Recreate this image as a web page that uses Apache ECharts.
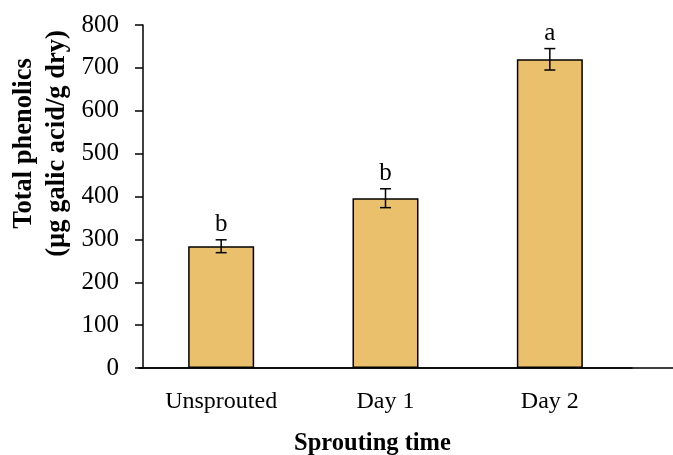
<!DOCTYPE html>
<html>
<head>
<meta charset="utf-8">
<title>Total phenolics</title>
<script src="https://cdn.jsdelivr.net/npm/echarts@6/dist/echarts.min.js"></script>
</head>
<body style="margin:0;background:#fff">
<div id="container" style="width:673px;height:455px"></div>
<script>
// values
var categories = ['Unsprouted', 'Day 1', 'Day 2'];
var means = [284, 396, 720];
var errors = [15, 22, 25];
var letters = ['b', 'b', 'a'];

var font = '"Liberation Serif", "Times New Roman", serif';

var errData = [];
for (var i = 0; i < categories.length; i++) {
    errData.push([i, means[i], errors[i]]);
}

var myChart = echarts.init(document.getElementById('container'));
var option = {
    backgroundColor: '#fff',
    animation: false,
    grid: [
        {left: 139, right: 41, top: 25, bottom: 87, outerBoundsMode: 'none'},
        // the baseline in the original runs on to the right edge
        {left: 139, right: 0, top: 25, bottom: 87, outerBoundsMode: 'none'}
    ],
    xAxis: [
        {
            type: 'category',
            data: categories,
            axisLine: {lineStyle: {color: '#000', width: 1.5}},
            axisTick: {show: false},
            axisLabel: {color: '#000', fontFamily: font, fontSize: 24, margin: 22},
            name: 'Sprouting time',
            nameLocation: 'middle',
            nameGap: 63,
            nameMoveOverlap: false,
            nameTextStyle: {color: '#000', fontFamily: font, fontSize: 24.5, fontWeight: 'bold', padding: [0, 26, 0, 0]}
        },
        {
            gridIndex: 1,
            type: 'category',
            data: [''],
            axisLine: {lineStyle: {color: '#000', width: 1.5}},
            axisTick: {show: false},
            axisLabel: {show: false}
        }
    ],
    yAxis: [
        {
            type: 'value',
            min: 0,
            max: 800,
            interval: 100,
            offset: -4,
            axisLine: {show: true, lineStyle: {color: '#000', width: 1.5}},
            axisTick: {show: true, length: 8, lineStyle: {color: '#000', width: 1.5}},
            axisLabel: {color: '#000', fontFamily: font, fontSize: 25, margin: 24},
            splitLine: {show: false},
            name: 'Total phenolics\n(µg galic acid/g dry)',
            nameLocation: 'middle',
            nameRotate: 90,
            nameGap: 69,
            nameMoveOverlap: false,
            nameTextStyle: {color: '#000', fontFamily: font, fontSize: 26.5, fontWeight: 'bold', lineHeight: 33, padding: [0, 0, 0, 106]}
        },
        {gridIndex: 1, type: 'value', min: 0, max: 800, show: false}
    ],
    series: [
        {
            type: 'bar',
            data: means,
            barWidth: 66,
            z: 3,
            itemStyle: {color: '#EAC06D', borderColor: '#000', borderWidth: 1.5}
        },
        {
            type: 'custom',
            data: errData,
            z: 5,
            renderItem: function (params, api) {
                var x = api.value(0), y = api.value(1), e = api.value(2);
                var top = api.coord([x, y + e]);
                var bot = api.coord([x, y - e]);
                var half = 5.5;
                var ls = {stroke: '#000', lineWidth: 1.5};
                return {
                    type: 'group',
                    children: [
                        {type: 'line', shape: {x1: top[0], y1: top[1], x2: bot[0], y2: bot[1]}, style: ls},
                        {type: 'line', shape: {x1: top[0] - half, y1: top[1], x2: top[0] + half, y2: top[1]}, style: ls},
                        {type: 'line', shape: {x1: bot[0] - half, y1: bot[1], x2: bot[0] + half, y2: bot[1]}, style: ls},
                        {type: 'text', style: {
                            text: letters[params.dataIndex], x: top[0], y: top[1] - 3,
                            align: 'center', verticalAlign: 'bottom',
                            font: '25px ' + font, fill: '#000'
                        }}
                    ]
                };
            }
        }
    ]
};
myChart.setOption(option);
</script>
</body>
</html>
